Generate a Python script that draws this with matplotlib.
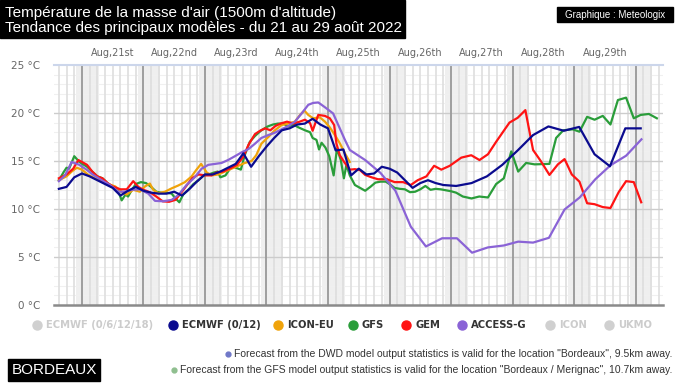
import matplotlib
matplotlib.use('Agg')

import matplotlib.pyplot as plt
from matplotlib.patches import Rectangle
from matplotlib.lines import Line2D

# hours counted from Aug 21st 00:00
ecmwf_h = [-9, -6, -3, 0, 3, 6, 9, 12, 15, 18, 21, 24, 27, 30, 33, 36, 39, 42, 45, 48,
           51, 54, 57, 60, 63, 66, 69, 72, 75, 78, 81, 84, 87, 90, 93, 96, 99, 102, 105,
           108, 111, 114, 117, 120, 123, 126, 129, 132, 135, 138, 141, 146, 152, 158, 164,
           170, 176, 182, 188, 194, 200, 206, 212, 218]
ecmwf_t = [12.1, 12.3, 13.3, 13.7, 13.4, 13.0, 12.6, 12.2, 11.4, 11.9, 12.3, 11.9, 11.7, 11.6,
           11.6, 11.8, 11.4, 12.1, 12.9, 13.6, 13.6, 13.9, 14.3, 14.7, 15.8, 14.4, 15.5, 16.5,
           17.4, 18.2, 18.4, 18.8, 18.9, 19.4, 18.8, 18.4, 16.1, 16.2, 13.5, 14.2, 13.6, 13.7,
           14.4, 14.2, 13.8, 13.0, 12.2, 12.7, 13.0, 12.7, 12.5, 12.4, 12.7, 13.4, 14.6, 16.1,
           17.7, 18.6, 18.15, 18.55, 15.7, 14.45, 18.4, 18.4]

icon_h = [-9, -6, -4, -2, 0, 2.5, 5, 7.7, 10.3, 13, 15.5, 17.4, 20, 22.6, 24.6, 26.5, 27.8,
          29.8, 32.4, 35, 37.6, 40.2, 42.8, 44.7, 46.5, 48.7, 50.6, 53.2, 55.8, 58.4, 61, 63.6,
          66.2, 68, 70, 72.7, 75.3, 77.9, 80.5, 83.1, 85.1, 86.8, 88.3, 90.2, 92.8, 94.8, 96.7,
          98.7, 100.6, 102.6, 104.5]
icon_t = [13.0, 13.4, 13.9, 14.3, 14.1, 13.55, 13.2, 12.85, 12.6, 12.35, 11.8, 11.5, 12.0, 11.8,
          12.35, 12.65, 12.0, 11.65, 11.8, 12.15, 12.45, 12.8, 13.4, 14.1, 14.7, 13.8, 13.5,
          13.6, 13.9, 14.2, 14.5, 14.8, 15.0, 15.6, 16.8, 17.5, 18.2, 18.75, 18.9, 19.1, 19.8,
          20.25, 19.8, 19.45, 19.55, 19.1, 18.5, 17.7, 16.85, 15.8, 14.9]

gfs_h = [-9, -7, -6, -5, -3, -2, -1, 2, 4, 6, 8, 10, 12, 14, 15.5, 17, 18, 19.5, 21, 23, 25, 27,
         29, 31, 33, 35, 36.5, 38, 39.5, 41.5, 43.5, 45.5, 47.5, 49.5, 51.5, 53, 54, 56, 57.5,
         59, 61, 62, 63.5, 65.5, 67.5, 70, 72.5, 74.5, 76.5, 78.5, 80.5, 82.5, 84.5, 87, 89, 90,
         91.5, 92.5, 93.5, 95, 96.5, 98.2, 99.5, 101, 102.2, 103.2, 104.5, 106.5, 108.5, 110.5,
         112.5, 114.5, 116.5, 118.5, 120, 122, 124, 126, 128, 130, 132, 134, 136, 138, 140, 142,
         144, 146, 148.6, 152, 155, 158.4, 161.6, 164.6, 167.5, 170.2, 173.3, 176.6, 182.4, 185,
         187.8, 191.5, 194.1, 197.1, 200, 203.2, 206.2, 209.1, 212.3, 215.3, 218, 221.2, 224.3]
gfs_t = [13.0, 13.9, 14.3, 14.2, 15.5, 15.2, 14.9, 14.4, 13.9, 13.4, 13.2, 12.7, 12.3, 12.0, 10.9,
         11.5, 11.3, 12.0, 12.6, 12.8, 12.7, 12.3, 11.8, 11.7, 11.7, 11.6, 11.1, 10.7, 11.5, 12.0,
         12.6, 13.0, 13.5, 13.6, 13.8, 13.9, 13.3, 13.5, 14.1, 14.4, 14.2, 14.1, 15.6, 17.0, 17.6,
         18.2, 18.6, 18.8, 18.9, 18.9, 18.6, 18.8, 18.5, 18.2, 18.0, 17.4, 17.2, 16.2, 16.9, 16.4,
         15.5, 13.5, 16.3, 15.1, 13.2, 14.6, 13.5, 12.5, 12.2, 11.9, 12.3, 12.75, 12.85, 12.85,
         12.6, 12.2, 12.1, 12.05, 11.75, 11.8, 12.05, 12.4, 12.0, 12.1, 12.05, 11.95, 11.85, 11.7,
         11.3, 11.1, 11.3, 11.2, 12.6, 13.2, 16.0, 13.9, 14.8, 14.65, 14.7, 17.4, 18.2, 18.3,
         18.05, 19.6, 19.3, 19.7, 18.8, 21.35, 21.6, 19.45, 19.8, 19.9, 19.45]

gem_h = [-9, -6, -3.4, -1.4, 0, 2, 4, 6, 8, 10, 12, 15, 17.5, 20, 22, 24, 26.5, 29, 31.5, 34,
         36.5, 38, 41, 43, 45.5, 48, 50.5, 52.5, 55, 58, 60.5, 63, 65, 67.5, 69.5, 71.5, 73.5,
         75.5, 77.5, 80, 82.5, 85, 87, 89, 90, 92.2, 94.8, 96.7, 98.4, 99.3, 100.6, 102.3, 104.5,
         106.5, 108.5, 110.5, 113, 115.5, 119, 122, 125.3, 128.3, 131, 134.4, 137.4, 140.2,
         143.5, 148, 151.9, 155.1, 158.4, 161.6, 166.8, 170, 173, 176, 179, 182.4, 185.7, 188.3,
         191.1, 194.1, 197.1, 200, 203.2, 206.2, 209.4, 212.3, 215.3, 218.2]
gem_t = [13.2, 13.6, 14.2, 15.1, 14.9, 14.6, 13.9, 13.4, 13.2, 12.7, 12.35, 12.05, 12.05, 12.9,
         12.3, 12.0, 11.75, 11.3, 10.8, 10.75, 10.95, 11.45, 12.5, 13.2, 13.6, 13.5, 13.5, 13.8,
         13.9, 14.25, 14.6, 15.45, 16.7, 17.8, 18.15, 18.4, 18.2, 18.65, 18.9, 19.1, 18.9, 19.1,
         19.3, 18.95, 18.15, 19.8, 19.7, 19.45, 18.75, 16.8, 15.6, 14.9, 14.1, 14.15, 14.05,
         13.55, 13.3, 13.1, 13.1, 12.8, 12.8, 12.5, 13.0, 13.4, 14.5, 14.1, 14.5, 15.35, 15.6,
         15.1, 15.7, 17.0, 19.0, 19.5, 20.3, 16.15, 15.0, 13.55, 14.65, 15.2, 13.6, 12.85, 10.6,
         10.5, 10.2, 10.1, 11.75, 12.9, 12.8, 10.7]

access_h = [-9, -6.6, -4, -1, 1.8, 4.4, 7.7, 10.9, 14.2, 16.8, 19.4, 22.6, 25.9, 28.5, 31.7, 35,
            37.6, 40.8, 44, 46.7, 49.3, 52, 54.5, 57, 59.7, 62.3, 65, 67.5, 70, 72.7, 75.3, 77.9,
            80.5, 83.1, 85.7, 88.3, 90.2, 92.2, 94.8, 98, 100.6, 102.6, 104.5, 110.5, 116.5,
            122.3, 128.3, 134.2, 140.5, 146.3, 152.2, 158.4, 164.6, 170.2, 176, 182.2, 188.3,
            194.2, 200.3, 206.2, 212.3, 218.3]
access_t = [12.9, 13.5, 14.9, 14.6, 14.1, 13.55, 13.0, 12.5, 11.8, 11.8, 12.0, 12.05, 11.6, 10.85,
            10.8, 10.95, 11.45, 12.5, 13.3, 14.2, 14.6, 14.7, 14.8, 15.1, 15.5, 15.9, 16.25, 16.8,
            17.4, 17.7, 17.95, 18.3, 18.65, 19.1, 19.95, 20.85, 21.05, 21.1, 20.6, 19.95, 18.4,
            17.2, 16.15, 15.1, 13.75, 11.9, 8.16, 6.1, 6.95, 6.95, 5.45, 6.0, 6.2, 6.6, 6.5, 7.0,
            9.95, 11.2, 13.1, 14.55, 15.55, 17.26]

day_labels = ["Aug,21st", "Aug,22nd", "Aug,23rd", "Aug,24th", "Aug,25th",
              "Aug,26th", "Aug,27th", "Aug,28th", "Aug,29th"]
y_ticks = [0, 5, 10, 15, 20, 25]

legend_names = ["ECMWF (0/6/12/18)", "ECMWF (0/12)", "ICON-EU", "GFS", "GEM", "ACCESS-G", "ICON", "UKMO"]
legend_colors = ["#d0d0d0", "#0b0b8f", "#f0a30a", "#2a9d3a", "#ff1414", "#8a63d6", "#d0d0d0", "#d0d0d0"]
legend_x = [37, 173, 278, 353, 406, 462, 550, 609]

notes = ['Forecast from the DWD model output statistics is valid for the location "Bordeaux", 9.5km away.',
         'Forecast from the GFS model output statistics is valid for the location "Bordeaux / Merignac", 10.7km away.']
note_dots = ["#7078c8", "#8fbf8f"]

W, H = 675, 391
fig = plt.figure(figsize=(W / 100, H / 100), dpi=100)
ax = fig.add_axes([54 / W, 1 - 305 / H, (663 - 54) / W, 240 / H])

x0, x1 = -10.9, 226.7
ax.set_xlim(x0, x1)
ax.set_ylim(0, 25)

# night bands, 3h grid, day lines
for d in range(-1, 11):
    m = d * 24
    ax.axvspan(m - 2.2, m + 6.5, color="#efefef", lw=0, zorder=0)
for t in range(1, 25):
    if t % 5:
        ax.axhline(t, color="#f0f0f0", lw=0.8, zorder=1)
h = -9
while h < x1:
    ax.axvline(h, color="#dedede", lw=1.2, zorder=1.2)
    h += 3
for t in y_ticks[1:-1]:
    ax.axhline(t, color="#cccccc", lw=1.0, zorder=1.4)
for d in range(0, 10):
    ax.axvline(d * 24, color="#9a9a9a", lw=1.3, zorder=1.6)
ax.axhline(25, color="#ccd6eb", lw=1.5, zorder=2, clip_on=False)
ax.axhline(0, color="#8a8a8a", lw=1.8, zorder=2, clip_on=False)

lw = 1.6
ax.plot(gfs_h, gfs_t, color=legend_colors[3], lw=lw, zorder=3)
ax.plot(icon_h, icon_t, color=legend_colors[2], lw=lw, zorder=4)
ax.plot(gem_h, gem_t, color=legend_colors[4], lw=lw, zorder=4)
ax.plot(access_h, access_t, color=legend_colors[5], lw=lw, zorder=5)
ax.plot(ecmwf_h, ecmwf_t, color=legend_colors[1], lw=lw, zorder=6)

for s in ax.spines.values():
    s.set_visible(False)
ax.set_xticks([])
ax.set_yticks(y_ticks)
ax.set_yticklabels(["%d °C" % t for t in y_ticks])
ax.tick_params(axis="y", length=0, pad=10, labelsize=7.5, labelcolor="#666666")

for i, lab in enumerate(day_labels):
    ax.text(i * 24 + 12, 1.05, lab, transform=ax.get_xaxis_transform(),
            ha="center", va="center", fontsize=7, color="#666666")

# title box
fig.add_artist(Rectangle((0, 1 - 38 / H), 405 / W, 38 / H, transform=fig.transFigure,
                         color="black", zorder=0))
fig.text(5 / W, 1 - 12.5 / H, "Température de la masse d'air (1500m d'altitude)",
         color="white", fontsize=11, family="Liberation Sans", va="center")
fig.text(5 / W, 1 - 28 / H, "Tendance des principaux modèles - du 21 au 29 août 2022",
         color="white", fontsize=11, family="Liberation Sans", va="center")

fig.add_artist(Rectangle((557 / W, 1 - 22 / H), 116 / W, 15 / H, transform=fig.transFigure,
                         color="black", zorder=0))
fig.text(615 / W, 1 - 14.5 / H, "Graphique : Meteologix", color="white", fontsize=7,
         family="Liberation Sans", ha="center", va="center")

# legend
ly = 1 - 325 / H
for name, col, x in zip(legend_names, legend_colors, legend_x):
    fig.add_artist(Line2D([x / W], [ly], marker="o", markersize=6.5, color=col, lw=0,
                          transform=fig.transFigure))
    tcol = "#333333" if col != "#d0d0d0" else "#cccccc"
    fig.text((x + 9) / W, ly, name, color=tcol, fontsize=7.2, fontweight="bold",
             va="center", ha="left")

# notes, with a small coloured dot in front
note_texts = []
for i, txt in enumerate(notes):
    note_texts.append(fig.text(672 / W, 1 - (354 + 16 * i) / H, txt, fontsize=7.5,
                               family="Liberation Sans", color="#333333", ha="right", va="center"))
fig.canvas.draw()
renderer = fig.canvas.get_renderer()
for t, col in zip(note_texts, note_dots):
    bb = t.get_window_extent(renderer)
    fig.add_artist(Line2D([(bb.x0 - 6) / W], [t.get_position()[1]], marker="o", markersize=3.5,
                          color=col, lw=0, transform=fig.transFigure))

fig.add_artist(Rectangle((8 / W, 1 - 381 / H), 92 / W, 22 / H, transform=fig.transFigure,
                         color="black", zorder=0))
fig.text(54 / W, 1 - 370 / H, "BORDEAUX", color="white", fontsize=11,
         family="Liberation Sans", ha="center", va="center")

fig.savefig("out.png", dpi=100)
